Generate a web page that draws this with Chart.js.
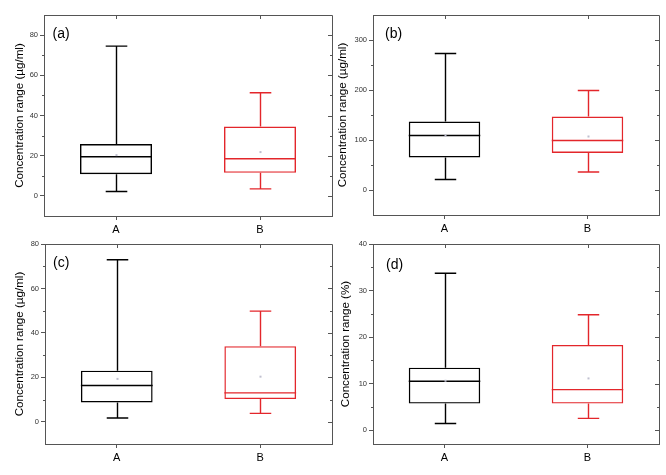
<!DOCTYPE html>
<html>
<head>
<meta charset="utf-8">
<script src="https://cdn.jsdelivr.net/npm/chart.js@4.4.1/dist/chart.umd.min.js"></script>
<style>
  body { margin: 0; background: #fff; }
  #wrap { position: relative; width: 666px; height: 475px; }
  #wrap canvas { position: absolute; }
</style>
</head>
<body>
<div id="wrap"></div>
<script>
// data, one pair [A, B] per panel (a)..(d)
const categories = ['A', 'B'];
const panelLabels = ['(a)', '(b)', '(c)', '(d)'];
const yTitles = ['Concentration range (µg/ml)', 'Concentration range (µg/ml)',
                 'Concentration range (µg/ml)', 'Concentration range (%)'];
const lowWhisker  = [[2.2, 3.5],   [21, 36],   [1.7, 3.8],  [1.4, 2.5]];
const q1          = [[10.8, 11.5], [65, 74],   [8.7, 10.2], [5.7, 5.7]];
const median      = [[19.5, 18.5], [109, 99],  [16.3, 13],  [10.5, 8.7]];
const q3          = [[25.8, 34.5], [137, 147], [23, 34],    [13.4, 18.3]];
const highWhisker = [[74.5, 51.3], [273, 199], [72.9, 49.8], [33.7, 24.8]];
const means       = [[20.3, 21.8], [109, 107], [19.3, 20.3], [10.6, 11.1]];
const yRanges     = [[-10, 90], [-50, 350], [-10, 80], [-3, 40]];
const yTicks      = [[0, 20, 40, 60, 80], [0, 100, 200, 300], [0, 20, 40, 60, 80], [0, 10, 20, 30, 40]];
const yMinorTicks = [[10, 30, 50, 70], [50, 150, 250], [10, 30, 50, 70], [5, 15, 25, 35]];

const boxColors = ['#000000', '#e3262b'];
const axisColor = '#555555';
const fontFamily = "'Liberation Sans', Arial, sans-serif";

// canvas boxes and plot areas in page pixels
const canvasBoxes = [[0, 0, 333, 237], [333, 0, 333, 237], [0, 237, 333, 238], [333, 237, 333, 238]];
const plotAreas = [[44, 15, 332, 216], [373, 15, 659, 215], [45, 244, 332, 444], [373, 244, 659, 444]];
const titlePads = [13, 3, 13, 6];
const labelOffsets = [[8.5, 19.5], [12, 18.7], [8, 18.7], [13, 20.7]];

const boxPlugin = {
    id: 'boxPlugin',
    afterDatasetsDraw(chart) {
        const p = chart.options.panel;
        const ctx = chart.ctx;
        const y = chart.scales.y;
        const x = chart.scales.x;
        const area = chart.chartArea;
        const bars = chart.getDatasetMeta(0).data;

        ctx.save();
        bars.forEach((bar, i) => {
            const cx = Math.round(bar.x) + 0.5;
            const w = bar.width;
            const capW = w * 0.15;
            ctx.strokeStyle = boxColors[i];
            ctx.lineWidth = 1.4;
            ctx.beginPath();
            ctx.moveTo(cx, y.getPixelForValue(q3[p][i]));
            ctx.lineTo(cx, y.getPixelForValue(highWhisker[p][i]));
            ctx.moveTo(cx, y.getPixelForValue(q1[p][i]));
            ctx.lineTo(cx, y.getPixelForValue(lowWhisker[p][i]));
            ctx.moveTo(cx - capW, y.getPixelForValue(highWhisker[p][i]));
            ctx.lineTo(cx + capW, y.getPixelForValue(highWhisker[p][i]));
            ctx.moveTo(cx - capW, y.getPixelForValue(lowWhisker[p][i]));
            ctx.lineTo(cx + capW, y.getPixelForValue(lowWhisker[p][i]));
            ctx.moveTo(bar.x - w / 2, y.getPixelForValue(median[p][i]));
            ctx.lineTo(bar.x + w / 2, y.getPixelForValue(median[p][i]));
            ctx.stroke();
            ctx.fillStyle = '#c0c0d0';
            ctx.fillRect(cx - 1, y.getPixelForValue(means[p][i]) - 1, 2, 2);
        });

        // frame with mirrored ticks
        ctx.strokeStyle = axisColor;
        ctx.lineWidth = 1;
        ctx.beginPath();
        ctx.moveTo(area.left, area.top + 0.5);
        ctx.lineTo(area.right + 0.5, area.top + 0.5);
        ctx.lineTo(area.right + 0.5, area.bottom);
        yTicks[p].forEach(v => {
            const py = Math.round(y.getPixelForValue(v)) + 0.5;
            ctx.moveTo(area.right, py);
            ctx.lineTo(area.right - 4, py);
        });
        yMinorTicks[p].forEach(v => {
            const py = Math.round(y.getPixelForValue(v)) + 0.5;
            ctx.moveTo(area.right, py);
            ctx.lineTo(area.right - 2, py);
            ctx.moveTo(area.left, py);
            ctx.lineTo(area.left - 2, py);
        });
        categories.forEach((c, i) => {
            const px = Math.round(x.getPixelForValue(i)) + 0.5;
            ctx.moveTo(px, area.top);
            ctx.lineTo(px, area.top + 4);
        });
        ctx.stroke();

        ctx.fillStyle = '#000';
        ctx.font = '14px ' + fontFamily;
        ctx.textBaseline = 'middle';
        ctx.fillText(panelLabels[p], area.left + labelOffsets[p][0], area.top + labelOffsets[p][1]);
        ctx.restore();
    }
};

const wrap = document.getElementById('wrap');

panelLabels.forEach((label, p) => {
    const box = canvasBoxes[p];
    const pa = plotAreas[p];
    const canvas = document.createElement('canvas');
    canvas.width = box[2];
    canvas.height = box[3];
    canvas.style.left = box[0] + 'px';
    canvas.style.top = box[1] + 'px';
    wrap.appendChild(canvas);

    const yWidth = pa[0] - box[0];
    const xHeight = box[1] + box[3] - pa[3];

    new Chart(canvas.getContext('2d'), {
        type: 'bar',
        data: {
            labels: categories,
            datasets: [{
                data: categories.map((c, i) => [q1[p][i], q3[p][i]]),
                backgroundColor: 'rgba(0,0,0,0)',
                borderColor: boxColors,
                borderWidth: 1.4,
                borderSkipped: false,
                barPercentage: 0.5,
                categoryPercentage: 1
            }]
        },
        options: {
            panel: p,
            responsive: false,
            animation: false,
            devicePixelRatio: 1,
            layout: {
                padding: { left: 0, top: pa[1] - box[1], right: box[0] + box[2] - pa[2], bottom: 0 }
            },
            plugins: {
                legend: { display: false },
                tooltip: { enabled: false }
            },
            scales: {
                x: {
                    type: 'category',
                    offset: true,
                    afterFit: s => { s.height = xHeight; },
                    grid: { display: true, offset: false, drawOnChartArea: false, tickLength: 4, tickColor: axisColor },
                    border: { color: axisColor, width: 1 },
                    ticks: { color: '#000', padding: 3, font: { family: fontFamily, size: 11 } }
                },
                y: {
                    min: yRanges[p][0],
                    max: yRanges[p][1],
                    afterBuildTicks: s => { s.ticks = yTicks[p].map(v => ({ value: v })); },
                    afterFit: s => { s.width = yWidth; },
                    grid: { display: true, drawOnChartArea: false, tickLength: 4, tickColor: axisColor },
                    border: { color: axisColor, width: 1 },
                    ticks: { color: '#333', padding: 2, font: { family: fontFamily, size: 7.5 } },
                    title: {
                        display: true,
                        text: yTitles[p],
                        color: '#000',
                        padding: { top: titlePads[p], bottom: 0 },
                        font: { family: fontFamily, size: 11.6 }
                    }
                }
            }
        },
        plugins: [boxPlugin]
    });
});
</script>
</body>
</html>
